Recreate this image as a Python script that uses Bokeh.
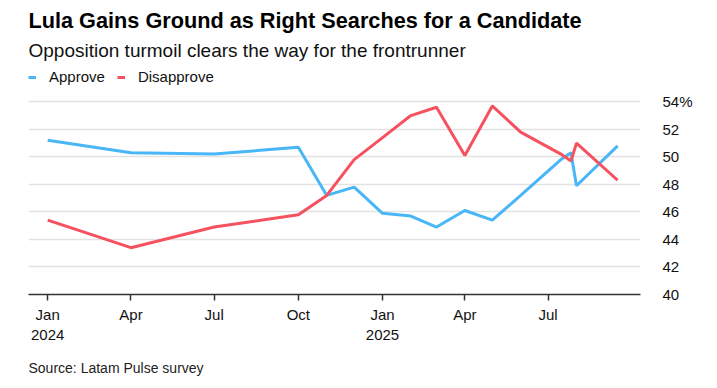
from datetime import datetime
from bokeh.plotting import figure
from bokeh.models import (ColumnDataSource, FixedTicker, CustomJSTickFormatter, Legend,
                          LegendItem, Title, Range1d)
from bokeh.embed import file_html
from bokeh.resources import INLINE

# ---- data ----
dates = ["2024-01-01", "2024-04-01", "2024-07-01", "2024-10-01", "2024-11-01", "2024-12-01",
         "2025-01-01", "2025-02-01", "2025-03-01", "2025-04-01", "2025-05-01", "2025-06-01",
         "2025-07-15", "2025-07-26", "2025-08-01", "2025-09-15"]
approve = [51.2, 50.3, 50.2, 50.7, 47.2, 47.8, 45.9, 45.7, 44.9, 46.1, 45.4, 47.2,
           49.8, 50.3, 47.9, 50.8]
disapprove = [45.4, 43.4, 44.9, 45.8, 47.2, 49.8, 51.4, 53.0, 53.6, 50.1, 53.7, 51.8,
              50.2, 49.7, 51.0, 48.3]
x_tick_dates = ["2024-01-01", "2024-04-01", "2024-07-01", "2024-10-01",
                "2025-01-01", "2025-04-01", "2025-07-01"]
y_ticks = [40, 42, 44, 46, 48, 50, 52, 54]
title_text = "Lula Gains Ground as Right Searches for a Candidate"
subtitle_text = "Opposition turmoil clears the way for the frontrunner"
source_text = "Source: Latam Pulse survey"

BLUE = "#48b6f7"
RED = "#f5515f"
FONT = "Liberation Sans"

def ms(s):
    return datetime.strptime(s, "%Y-%m-%d").timestamp() * 1000.0

src = ColumnDataSource(dict(x=[datetime.strptime(d, "%Y-%m-%d") for d in dates],
                            approve=approve, disapprove=disapprove))

p = figure(width=709, height=388, x_axis_type="datetime",
           y_axis_location="right", output_backend="svg", toolbar_location=None,
           min_border_left=28, min_border_right=69, min_border_top=5, min_border_bottom=0,
           x_range=Range1d(ms("2023-12-11"), ms("2025-10-10")),
           y_range=Range1d(40, 57.0), title=None)
p.outline_line_color = None
p.background_fill_color = "white"
p.border_fill_color = "white"

r1 = p.line("x", "approve", source=src, line_color=BLUE, line_width=3)
r2 = p.line("x", "disapprove", source=src, line_color=RED, line_width=3)

# grid
p.xgrid.grid_line_color = None
p.ygrid.grid_line_color = "#e2e2e2"
p.ygrid.grid_line_width = 1.5

# y axis
ya = p.yaxis[0]
ya.ticker = FixedTicker(ticks=y_ticks)
ya.major_label_overrides = {54: "54%"}
ya.axis_line_color = None
ya.major_tick_line_color = None
ya.minor_tick_line_color = None
ya.major_label_standoff = 16
ya.major_label_text_font = FONT
ya.major_label_text_font_size = "15px"
ya.major_label_text_color = "#111111"
p.ygrid.ticker = FixedTicker(ticks=y_ticks)

# x axis
xa = p.xaxis[0]
xa.ticker = FixedTicker(ticks=[ms(d) for d in x_tick_dates])
xa.formatter = CustomJSTickFormatter(code="""
const d = new Date(tick);
const names = ["Jan","Feb","Mar","Apr","May","Jun","Jul","Aug","Sep","Oct","Nov","Dec"];
const m = d.getUTCMonth();
return m == 0 ? names[m] + "\\n" + d.getUTCFullYear() : names[m];
""")
xa.axis_line_color = "#333333"
xa.axis_line_width = 1.5
xa.major_tick_line_color = "#333333"
xa.major_tick_line_width = 1.5
xa.major_tick_out = 6
xa.major_tick_in = 0
xa.minor_tick_line_color = None
xa.major_label_standoff = 5
xa.major_label_text_font = FONT
xa.major_label_text_font_size = "15px"
xa.major_label_text_color = "#111111"

# legend (inside the frame, above the top gridline)
legend = Legend(items=[LegendItem(label="Approve", renderers=[r1]),
                       LegendItem(label="Disapprove", renderers=[r2])],
                orientation="horizontal", location=(0, 209),
                label_text_font=FONT, label_text_font_size="15px", label_text_color="#111111",
                glyph_width=8, glyph_height=14, label_standoff=13, spacing=12,
                padding=0, margin=0, border_line_color=None, background_fill_alpha=0)
p.add_layout(legend, "center")

sub = Title(text=subtitle_text, text_font=FONT, text_font_size="19px",
            text_font_style="normal", text_color="#111111", align="left", standoff=0)
p.add_layout(sub, "above")
ttl = Title(text=title_text, text_font=FONT, text_font_size="21.7px",
            text_font_style="bold", text_color="#000000", align="left")
p.add_layout(ttl, "above")

src_t = Title(text=source_text, text_font=FONT, text_font_size="14px",
              text_font_style="normal", text_color="#222222", align="left", standoff=25)
p.add_layout(src_t, "below")

open("out.html", "w").write(file_html(p, INLINE))
